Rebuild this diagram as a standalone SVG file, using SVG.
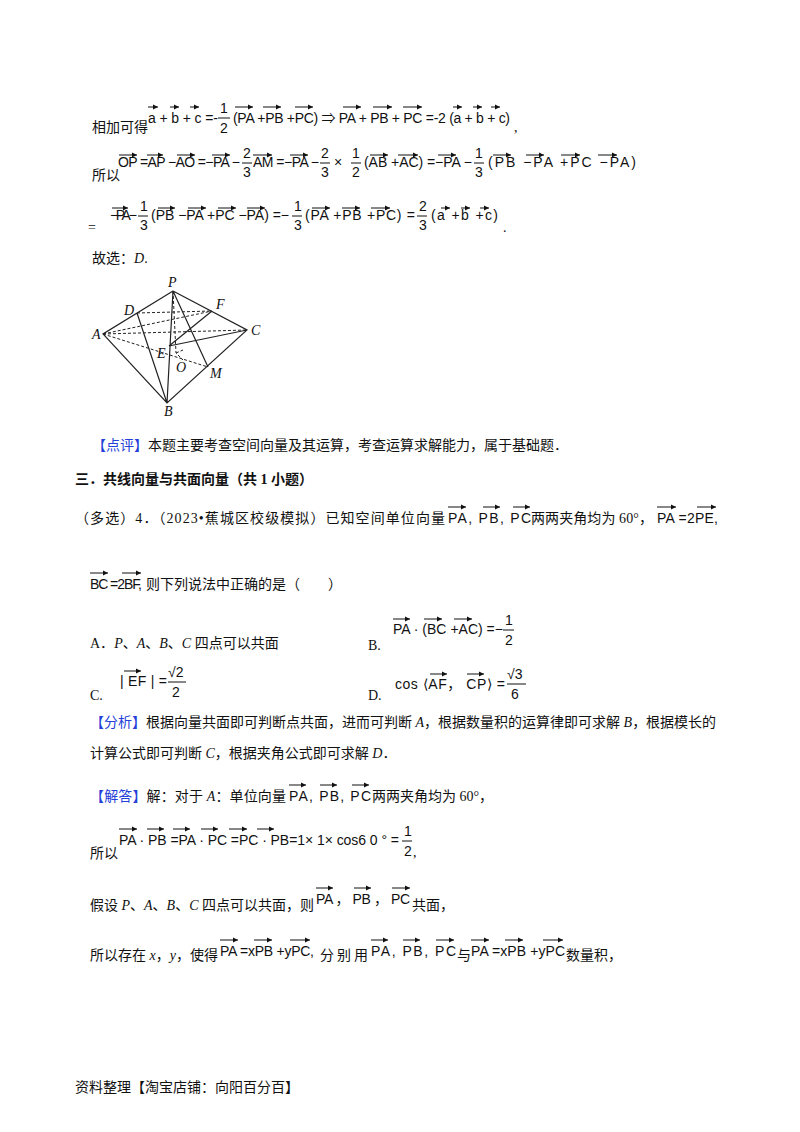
<svg xmlns="http://www.w3.org/2000/svg" width="800" height="1132" viewBox="0 0 800 1132">
<style>
text{font-family:"Liberation Serif","Noto Sans CJK SC",serif;font-size:14px;fill:#111}
.m{font-family:"Liberation Sans","Noto Sans CJK SC",sans-serif;font-size:14px}
.b{fill:#2440d8}
.h{font-weight:bold}
.v{stroke:#111;stroke-width:1;fill:none;marker-end:url(#ah)}
.s{stroke:#222;stroke-width:1.2;fill:none}
.d{stroke:#222;stroke-width:1;fill:none;stroke-dasharray:3 2}
.fb{stroke:#111;stroke-width:1}
</style>
<defs><marker id="ah" markerWidth="6" markerHeight="6" refX="5" refY="3" orient="auto"><path d="M0,0.5 L5,3 L0,5.5z" fill="#111"/></marker></defs>
<rect width="800" height="1132" fill="#fff"/>

<g id="line1">
<text x="92" y="132">相加可得</text>
<text class="m" x="148" y="123" textLength="70">a + b + c =-</text>
<text class="m" x="220" y="113">1</text><line class="fb" x1="218" y1="118" x2="230" y2="118"/><text class="m" x="220" y="133">2</text>
<text class="m" x="233" y="123" textLength="277">(PA +PB +PC) ⇒ PA + PB + PC =-2 (a + b + c)</text>
<text x="514" y="132">,</text>
</g>
<g id="line2">
<text x="92" y="180">所以</text>
<text class="m" x="118" y="167" textLength="122">OP =AP −AO =−PA −</text>
<text class="m" x="243" y="158">2</text><line class="fb" x1="242" y1="163" x2="252" y2="163"/><text class="m" x="243" y="177">3</text>
<text class="m" x="253" y="167" textLength="66">AM =−PA −</text>
<text class="m" x="321" y="158">2</text><line class="fb" x1="320" y1="163" x2="330" y2="163"/><text class="m" x="321" y="177">3</text>
<text class="m" x="334" y="167">×</text>
<text class="m" x="352" y="158">1</text><line class="fb" x1="351" y1="163" x2="361" y2="163"/><text class="m" x="352" y="177">2</text>
<text class="m" x="364" y="167" textLength="108">(AB +AC) =−PA −</text>
<text class="m" x="475" y="158">1</text><line class="fb" x1="474" y1="163" x2="484" y2="163"/><text class="m" x="475" y="177">3</text>
<text class="m" x="488" y="167" textLength="148">(PB −PA +PC −PA)</text>
</g>
<g id="line3">
<text x="88" y="232">=</text>
<text class="m" x="110" y="220" textLength="27">−PA −</text>
<text class="m" x="140" y="211">1</text><line class="fb" x1="138" y1="216" x2="148" y2="216"/><text class="m" x="140" y="230">3</text>
<text class="m" x="151" y="220" textLength="138">(PB −PA +PC −PA) =−</text>
<text class="m" x="294" y="211">1</text><line class="fb" x1="292" y1="216" x2="302" y2="216"/><text class="m" x="294" y="230">3</text>
<text class="m" x="305" y="220" textLength="110">(PA +PB +PC) =</text>
<text class="m" x="419" y="211">2</text><line class="fb" x1="417" y1="216" x2="427" y2="216"/><text class="m" x="419" y="230">3</text>
<text class="m" x="431" y="220" textLength="67">(a +b +c)</text>
<text x="503" y="232">.</text>
</g>
<text x="92" y="263">故选：<tspan font-style="italic">D</tspan>.</text>

<g id="figure">
<path class="s" d="M173 291L103 334L167 403L247 330L173 291M173 291L167 403M137 313L167 403M173 291L208 367M169 346L212 311M169 346L247 330"/>
<path class="d" d="M137 313L212 311M103 334L212 311M103 334L247 330M103 334L208 367M173 291L176 353L183 360M176 353L183 350"/>
<text x="168" y="287" font-style="italic" font-size="13">P</text>
<text x="124" y="315" font-style="italic" font-size="13">D</text>
<text x="216" y="309" font-style="italic" font-size="13">F</text>
<text x="92" y="339" font-style="italic" font-size="13">A</text>
<text x="251" y="335" font-style="italic" font-size="13">C</text>
<text x="157" y="358" font-style="italic" font-size="13">E</text>
<text x="176" y="372" font-style="italic" font-size="13">O</text>
<text x="210" y="378" font-style="italic" font-size="13">M</text>
<text x="164" y="416" font-style="italic" font-size="13">B</text>
</g>

<text x="92" y="450"><tspan class="b">【点评】</tspan>本题主要考查空间向量及其运算，考查运算求解能力，属于基础题．</text>
<text class="h" x="75" y="484">三．共线向量与共面向量（共 1 小题）</text>

<g id="q4">
<text x="75" y="523" textLength="370">（多选）4．（2023•蕉城区校级模拟）已知空间单位向量</text>
<text class="m" x="448" y="523" textLength="83">PA,  PB,  PC</text>
<text x="531" y="523" textLength="122">两两夹角均为 60°，</text>
<text class="m" x="657" y="523" textLength="61">PA =2PE,</text>
<text class="m" x="90" y="589" textLength="52">BC =2BF,</text>
<text x="146" y="589">则下列说法中正确的是（　　）</text>
<text x="90" y="648">A．<tspan font-style="italic">P</tspan>、<tspan font-style="italic">A</tspan>、<tspan font-style="italic">B</tspan>、<tspan font-style="italic">C</tspan> 四点可以共面</text>
<text x="368" y="650">B.</text>
<text class="m" x="393" y="634" textLength="110">PA · (BC +AC) =−</text>
<text class="m" x="505" y="625">1</text><line class="fb" x1="503" y1="630" x2="514" y2="630"/><text class="m" x="505" y="645">2</text>
<text x="90" y="700">C.</text>
<text class="m" x="120" y="686" textLength="47">| EF | =</text>
<text class="m" x="168" y="677">√2</text><line class="fb" x1="168" y1="682" x2="186" y2="682"/><text class="m" x="172" y="697">2</text>
<text x="368" y="700">D.</text>
<text class="m" x="395" y="689" textLength="110">cos ⟨AF， CP⟩ =</text>
<text class="m" x="507" y="679">√3</text><line class="fb" x1="507" y1="684" x2="526" y2="684"/><text class="m" x="511" y="699">6</text>
</g>

<text x="90" y="727"><tspan class="b">【分析】</tspan>根据向量共面即可判断点共面，进而可判断 <tspan font-style="italic">A</tspan>，根据数量积的运算律即可求解 <tspan font-style="italic">B</tspan>，根据模长的</text>
<text x="90" y="758">计算公式即可判断 <tspan font-style="italic">C</tspan>，根据夹角公式即可求解 <tspan font-style="italic">D</tspan>．</text>

<g id="ans">
<text x="90" y="801" textLength="196"><tspan class="b">【解答】</tspan>解：对于 <tspan font-style="italic">A</tspan>：单位向量</text>
<text class="m" x="289" y="801" textLength="82">PA,  PB,  PC</text>
<text x="372" y="801">两两夹角均为 60°，</text>
<text x="90" y="858">所以</text>
<text class="m" x="119" y="845" textLength="280">PA · PB =PA · PC =PC · PB=1× 1× cos6 0 °  =</text>
<text class="m" x="404" y="836">1</text><line class="fb" x1="402" y1="841" x2="412" y2="841"/><text class="m" x="404" y="856">2</text>
<text x="413" y="857">,</text>
<text x="90" y="910" textLength="224">假设 <tspan font-style="italic">P</tspan>、<tspan font-style="italic">A</tspan>、<tspan font-style="italic">B</tspan>、<tspan font-style="italic">C</tspan> 四点可以共面，则</text>
<text class="m" x="316" y="904" textLength="94">PA ，  PB ，  PC</text>
<text x="412" y="910">共面，</text>
<text x="90" y="960" textLength="128">所以存在 <tspan font-style="italic">x</tspan>，<tspan font-style="italic">y</tspan>，使得</text>
<text class="m" x="220" y="956" textLength="94">PA =xPB +yPC,</text>
<text x="320" y="960" textLength="48">分别用</text>
<text class="m" x="371" y="956" textLength="85">PA,  PB,  PC</text>
<text x="457" y="960">与</text>
<text class="m" x="471" y="956" textLength="94">PA =xPB +yPC</text>
<text x="566" y="960">数量积，</text>
</g>

<g id="arrows">
<line class="v" x1="148" y1="107" x2="158" y2="107"/><line class="v" x1="170" y1="107" x2="179" y2="107"/><line class="v" x1="190" y1="107" x2="199" y2="107"/>
<line class="v" x1="235" y1="107" x2="253" y2="107"/><line class="v" x1="263" y1="107" x2="281" y2="107"/><line class="v" x1="295" y1="107" x2="313" y2="107"/>
<line class="v" x1="343" y1="107" x2="361" y2="107"/><line class="v" x1="373" y1="107" x2="392" y2="107"/><line class="v" x1="403" y1="107" x2="422" y2="107"/>
<line class="v" x1="453" y1="107" x2="462" y2="107"/><line class="v" x1="473" y1="107" x2="482" y2="107"/><line class="v" x1="491" y1="107" x2="500" y2="107"/>
<line class="v" x1="119" y1="155" x2="137" y2="155"/><line class="v" x1="147" y1="155" x2="163" y2="155"/><line class="v" x1="177" y1="155" x2="195" y2="155"/>
<line class="v" x1="212" y1="155" x2="230" y2="155"/><line class="v" x1="253" y1="155" x2="272" y2="155"/><line class="v" x1="290" y1="155" x2="308" y2="155"/>
<line class="v" x1="370" y1="155" x2="388" y2="155"/><line class="v" x1="398" y1="155" x2="418" y2="155"/><line class="v" x1="438" y1="155" x2="456" y2="155"/>
<line class="v" x1="493" y1="155" x2="511" y2="155"/><line class="v" x1="526" y1="155" x2="544" y2="155"/><line class="v" x1="561" y1="155" x2="580" y2="155"/><line class="v" x1="598" y1="155" x2="617" y2="155"/>
<line class="v" x1="112" y1="208" x2="128" y2="208"/><line class="v" x1="158" y1="208" x2="175" y2="208"/><line class="v" x1="188" y1="208" x2="206" y2="208"/>
<line class="v" x1="218" y1="208" x2="236" y2="208"/><line class="v" x1="247" y1="208" x2="265" y2="208"/><line class="v" x1="312" y1="208" x2="330" y2="208"/>
<line class="v" x1="342" y1="208" x2="360" y2="208"/><line class="v" x1="371" y1="208" x2="390" y2="208"/><line class="v" x1="441" y1="208" x2="450" y2="208"/>
<line class="v" x1="461" y1="208" x2="470" y2="208"/><line class="v" x1="480" y1="208" x2="489" y2="208"/>
<line class="v" x1="448" y1="507" x2="466" y2="507"/><line class="v" x1="483" y1="507" x2="500" y2="507"/><line class="v" x1="513" y1="507" x2="530" y2="507"/>
<line class="v" x1="657" y1="507" x2="676" y2="507"/><line class="v" x1="697" y1="507" x2="716" y2="507"/>
<line class="v" x1="90" y1="573" x2="108" y2="573"/><line class="v" x1="122" y1="573" x2="141" y2="573"/>
<line class="v" x1="393" y1="619" x2="410" y2="619"/><line class="v" x1="424" y1="619" x2="442" y2="619"/><line class="v" x1="454" y1="619" x2="472" y2="619"/>
<line class="v" x1="124" y1="671" x2="141" y2="671"/>
<line class="v" x1="430" y1="674" x2="447" y2="674"/><line class="v" x1="467" y1="674" x2="484" y2="674"/>
<line class="v" x1="289" y1="785" x2="306" y2="785"/><line class="v" x1="320" y1="785" x2="337" y2="785"/><line class="v" x1="352" y1="785" x2="369" y2="785"/>
<line class="v" x1="119" y1="829" x2="137" y2="829"/><line class="v" x1="147" y1="829" x2="164" y2="829"/><line class="v" x1="173" y1="829" x2="190" y2="829"/>
<line class="v" x1="201" y1="829" x2="218" y2="829"/><line class="v" x1="229" y1="829" x2="247" y2="829"/><line class="v" x1="257" y1="829" x2="274" y2="829"/>
<line class="v" x1="316" y1="888" x2="333" y2="888"/><line class="v" x1="354" y1="888" x2="371" y2="888"/><line class="v" x1="392" y1="888" x2="410" y2="888"/>
<line class="v" x1="220" y1="940" x2="238" y2="940"/><line class="v" x1="254" y1="940" x2="272" y2="940"/><line class="v" x1="290" y1="940" x2="310" y2="940"/>
<line class="v" x1="371" y1="940" x2="388" y2="940"/><line class="v" x1="403" y1="940" x2="420" y2="940"/><line class="v" x1="436" y1="940" x2="454" y2="940"/>
<line class="v" x1="471" y1="940" x2="489" y2="940"/><line class="v" x1="505" y1="940" x2="523" y2="940"/><line class="v" x1="543" y1="940" x2="563" y2="940"/>
</g>

<text x="75" y="1092" font-size="13">资料整理【淘宝店铺：向阳百分百】</text>
</svg>
